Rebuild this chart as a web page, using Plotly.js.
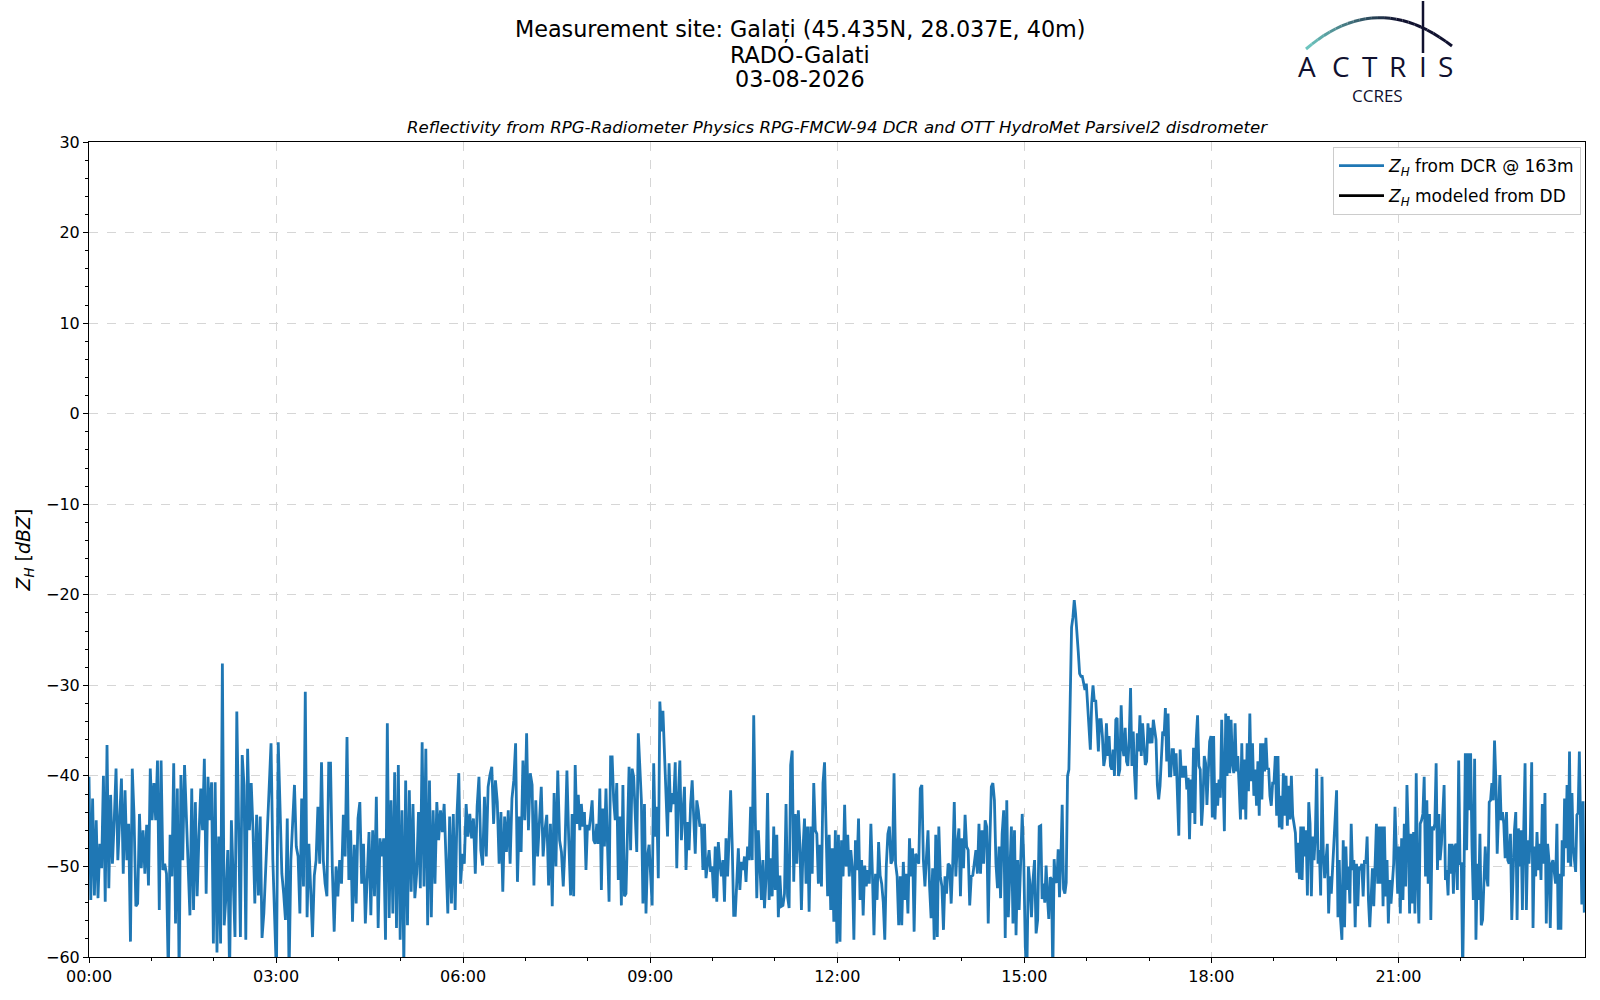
<!DOCTYPE html>
<html>
<head>
<meta charset="utf-8">
<script src="https://cdn.plot.ly/plotly-3.0.1.min.js"></script>
<style>
  html, body { margin: 0; padding: 0; background: #fff; }
  #chart { width: 1600px; height: 1000px; }
</style>
</head>
<body>
<div id="chart"></div>
<script>
/* Z_H time series in seven pieces.
   segBounds are the piece limits in minutes after 00:00 UTC. */
var segBounds = [0, 232.4, 463.4, 694.4, 915.8, 1166, 1416.3, 1440];

var zhA = [-40.1,-53.7,-42.5,-53.2,-44.9,-53.5,-47.5,-50.2,-40.0,-53.9,
  -36.6,-52.4,-42.1,-49.7,-44.9,-39.2,-49.3,-44.9,-40.3,-50.8,
  -41.6,-49.3,-45.3,-58.3,-39.2,-44.5,-54.4,-54.1,-44.2,-50.2,
  -46.0,-50.8,-45.4,-52.1,-39.2,-44.9,-40.8,-44.9,-38.3,-54.8,
  -38.3,-50.4,-49.7,-50.8,-62.0,-46.5,-51.1,-38.6,-56.3,-41.4,
  -62.0,-39.9,-49.3,-38.8,-44.9,-48.9,-55.4,-41.4,-54.8,-42.9,
  -53.3,-46.7,-41.4,-46.0,-38.1,-53.0,-40.1,-44.9,-40.7,-58.5,
  -40.7,-59.5,-46.7,-58.5,-27.6,-56.5,-53.3,-48.2,-62.0,-44.9,
  -51.1,-57.8,-32.9,-46.7,-57.8,-37.7,-41.0,-58.1,-37.0,-46.0,
  -40.8,-46.0,-54.1,-44.3,-53.2,-44.5,-57.9,-55.2,-50.2,-46.0,
  -39.4,-36.4,-49.3,-57.4,-62.0,-36.3,-43.1,-50.8,-53.0,-55.9,
  -44.7,-62.0,-49.3,-45.4,-41.0,-47.8,-48.9,-55.2,-42.5,-52.2,
  -30.7,-55.6,-47.5,-52.6,-57.8,-51.0,-49.3,-43.4,-49.7,-38.5,
  -49.3,-51.9,-53.3,-38.6];

var zhB = [-38.6,-50.4,-57.2,-50.0,-53.3,-49.3,-51.9,-44.3,-48.9,-35.7,
  -51.5,-46.0,-56.1,-47.6,-54.1,-44.7,-42.9,-51.9,-47.5,-56.3,
  -50.4,-46.2,-55.4,-46.0,-53.3,-42.3,-56.8,-46.9,-48.9,-46.9,
  -58.1,-34.2,-55.7,-42.7,-55.2,-39.6,-56.8,-38.8,-58.1,-43.8,
  -61.0,-40.5,-56.5,-41.6,-52.8,-43.1,-53.5,-50.8,-44.0,-52.4,
  -36.3,-52.2,-37.0,-56.5,-40.5,-55.6,-43.8,-51.9,-42.9,-47.1,
  -43.8,-46.2,-43.1,-49.7,-55.2,-44.5,-54.1,-44.2,-54.8,-44.3,
  -39.7,-51.9,-48.6,-49.7,-43.1,-46.7,-44.2,-46.9,-44.7,-50.8,
  -43.4,-40.1,-48.2,-49.9,-42.3,-48.9,-41.2,-39.9,-39.0,-45.3,
  -40.5,-42.9,-49.7,-44.0,-52.8,-44.5,-48.4,-43.8,-49.7,-42.5,
  -40.5,-36.4,-51.7,-44.5,-48.4,-38.3,-44.9,-35.3,-46.0,-39.7,
  -41.0,-52.1,-42.7,-48.9,-44.3,-41.2,-48.9,-46.0,-44.3,-52.1,
  -45.3,-54.4,-41.9,-50.0,-39.4,-47.1,-48.4,-52.2,-47.5,-39.4,
  -47.1];

var zhC = [-53.2,-44.2,-53.3,-38.8,-45.3,-42.1,-46.0,-43.1,-45.6,-44.0,
  -50.4,-45.4,-46.0,-44.5,-42.7,-47.1,-47.5,-45.3,-47.5,-41.4,
  -52.6,-43.6,-47.8,-41.4,-48.6,-53.9,-37.9,-37.9,-42.7,-44.9,
  -40.8,-51.5,-44.5,-54.3,-41.0,-53.3,-53.0,-44.9,-39.0,-48.2,
  -39.2,-40.1,-44.5,-48.4,-35.3,-40.1,-42.7,-54.1,-43.1,-55.2,
  -48.9,-47.6,-51.1,-54.3,-38.6,-46.7,-43.4,-51.3,-31.8,-35.1,
  -32.8,-38.1,-41.6,-46.7,-38.6,-44.0,-41.9,-43.1,-38.5,-50.2,
  -42.3,-38.3,-47.1,-44.5,-41.2,-50.4,-45.1,-48.2,-43.1,-40.5,
  -45.6,-48.6,-42.7,-43.8,-45.6,-45.3,-50.4,-45.3,-51.3,-50.0,
  -48.2,-50.6,-50.0,-53.5,-47.8,-53.9,-47.3,-49.7,-51.1,-49.3,
  -53.9,-46.9,-51.1,-46.9,-41.6,-47.5,-55.4,-55.4,-51.5,-48.0,
  -52.6,-49.5,-50.4,-48.9,-51.7,-47.8,-49.3,-43.4,-49.3,-33.3,
  -44.5,-53.5,-46.0,-49.7,-53.7,-49.3,-54.6,-51.3,-41.9,-53.7,
  -49.1,-53.3,-45.6,-52.6,-46.5,-55.6,-51.0,-54.4,-54.3,-53.0,
  -43.1,-53.3,-54.6,-38.8,-37.2,-51.7,-44.2,-49.7,-43.8,-47.5,
  -54.8,-48.2,-44.7,-51.9,-45.6,-55.0];

var zhD = [-45.6,-50.8,-40.8,-46.0,-46.4,-51.9,-47.6,-52.2,-40.8,-38.5,
  -46.0,-53.3,-46.5,-54.8,-48.0,-56.1,-46.0,-58.5,-46.5,-58.3,
  -47.1,-51.1,-43.2,-50.0,-46.5,-51.1,-48.2,-50.2,-58.1,-47.1,
  -50.4,-44.7,-53.7,-49.3,-55.4,-49.9,-52.2,-50.4,-51.9,-45.3,
  -50.8,-57.6,-50.8,-53.7,-47.3,-51.0,-51.9,-53.9,-58.1,-49.9,
  -46.4,-45.6,-49.7,-49.3,-39.7,-49.7,-51.1,-56.5,-51.1,-56.5,
  -49.5,-53.7,-50.8,-55.2,-46.9,-51.1,-48.0,-57.2,-48.6,-49.3,
  -49.7,-41.4,-41.0,-49.3,-52.2,-48.9,-46.0,-52.2,-55.7,-50.2,
  -58.1,-46.5,-57.8,-45.6,-51.1,-52.2,-57.0,-51.1,-53.0,-49.7,
  -49.9,-54.1,-49.7,-42.9,-51.1,-47.5,-45.8,-53.3,-46.9,-50.2,
  -44.3,-47.8,-48.2,-54.3,-51.1,-51.0,-49.7,-48.2,-50.8,-45.3,
  -50.8,-46.0,-49.7,-44.9,-45.6,-56.3,-47.5,-41.2,-40.8,-42.7,
  -49.7,-52.4,-47.8,-53.5,-46.4,-43.8,-57.9,-42.7,-55.6,-51.1,
  -45.6,-56.3,-46.0,-57.6,-49.3,-54.8,-49.3,-44.2,-49.3,-58.9,
  -62.0,-50.0,-51.9,-55.6,-51.5,-49.3,-57.4,-55.9,-45.6];

var zhE = [-45.5,-53.6,-51.9,-54.0,-49.9,-53.4,-55.8,-51.2,-51.4,-62.0,
  -49.2,-51.6,-51.8,-48.1,-53.4,-49.2,-43.2,-52.5,-53.0,-51.8,
  -40.0,-39.3,-31.6,-23.6,-22.5,-20.6,-22.1,-23.9,-26.3,-28.7,
  -29.0,-29.0,-29.6,-30.5,-29.8,-32.7,-34.9,-37.1,-32.0,-30.0,
  -31.8,-31.6,-34.2,-37.3,-33.8,-33.8,-35.6,-38.9,-38.0,-34.2,
  -37.8,-35.6,-38.9,-39.3,-37.1,-40.0,-33.8,-33.6,-40.0,-39.3,
  -32.2,-36.7,-37.8,-34.7,-38.4,-38.9,-35.8,-30.3,-38.9,-35.1,
  -39.7,-42.6,-35.3,-37.3,-33.3,-37.8,-34.2,-36.0,-38.8,-38.4,
  -34.2,-36.4,-34.7,-36.4,-33.8,-34.9,-36.0,-41.0,-42.6,-41.1,
  -38.4,-35.1,-35.6,-32.5,-38.4,-33.1,-40.0,-40.0,-37.1,-37.1,
  -40.0,-37.5,-42.2,-46.6,-37.1,-40.2,-38.9,-40.2,-38.9,-41.5,
  -40.2,-47.0,-40.4,-44.1,-36.9,-45.3,-36.0,-33.3,-38.9,-39.3,
  -45.5,-43.0,-37.8,-38.6,-43.2,-39.3,-36.2,-35.6,-44.6,-35.6,
  -44.8,-40.8,-43.3,-40.4,-42.4,-33.8,-42.2,-46.1,-33.1,-40.0,
  -33.4,-39.7,-33.8,-38.6,-39.7,-34.2,-39.5,-37.8,-41.1,-44.8,
  -36.4,-43.7,-38.2,-44.8,-36.4,-41.7,-33.1,-40.6,-36.4,-42.2,
  -39.3,-43.3,-38.4,-44.4,-36.4,-42.6,-36.4,-39.5,-35.8,-39.3,
  -39.1,-42.2,-43.3,-40.8,-40.8,-37.8,-44.4,-37.8,-45.7,-42.2,
  -45.9,-39.7,-44.4,-40.0,-45.5,-41.1,-44.8,-40.0,-44.4,-45.2,
  -46.3,-50.7,-47.4,-51.4];

var zhF = [-45.6,-51.5,-45.6,-48.9,-46.0,-53.2,-42.9,-45.3,-53.3,-46.7,
  -49.3,-46.4,-39.2,-49.7,-48.2,-53.2,-40.1,-48.6,-51.3,-49.3,
  -47.5,-55.2,-51.1,-53.0,-50.0,-47.5,-43.8,-41.6,-55.6,-49.3,
  -55.9,-58.1,-47.1,-56.7,-47.8,-52.6,-50.0,-54.1,-45.3,-50.4,
  -49.3,-56.7,-49.7,-54.4,-50.0,-50.4,-49.7,-53.3,-49.3,-49.7,
  -46.7,-53.7,-56.7,-52.2,-50.2,-54.4,-49.3,-45.3,-51.9,-45.6,
  -51.9,-45.6,-54.4,-45.6,-53.3,-49.3,-56.3,-51.5,-54.1,-52.2,
  -49.7,-43.4,-49.3,-53.0,-47.8,-55.2,-46.9,-53.7,-45.3,-52.2,
  -41.0,-46.4,-55.2,-46.4,-54.1,-46.2,-55.2,-39.7,-51.1,-56.3,
  -45.3,-44.9,-44.2,-40.1,-51.1,-42.7,-51.9,-44.2,-55.9,-45.6,
  -46.0,-45.3,-38.6,-50.4,-44.2,-49.3,-47.5,-44.2,-41.0,-51.5,
  -50.4,-53.2,-47.5,-50.8,-47.5,-53.0,-47.8,-47.5,-52.6,-38.3,
  -49.7,-49.7,-62.0,-51.1,-37.5,-48.2,-37.5,-43.8,-37.5,-47.8,
  -53.7,-38.1,-58.1,-49.7,-53.7,-46.4,-56.5,-55.9,-51.1,-47.8,
  -51.1,-52.2,-42.9,-42.7,-40.8,-42.7,-36.1,-40.5,-48.6,-44.5,
  -39.9,-44.9,-44.0,-45.3,-49.1,-44.0,-49.3,-49.7,-46.4,-55.9,
  -49.3,-46.0,-44.0,-55.9,-45.8,-50.0,-46.0,-54.8,-46.0,-38.6,
  -54.8,-47.1,-49.7,-46.4,-38.5,-56.8,-47.8,-51.1,-46.2,-50.4,
  -47.5,-51.5,-43.1,-49.7,-41.9,-56.3,-47.5,-49.3,-56.8,-49.7,
  -49.3,-50.4,-51.9,-45.3,-57.0,-50.8];

var zhG = [-57.0,-47.1,-51.1,-42.5,-48.0,-41.0,-49.6,-37.3,-50.0,-41.9,
  -47.8,-49.3,-50.6,-44.3,-44.1,-37.3,-46.3,-54.2,-42.8,-55.1];

var dayStart = Date.UTC(2026, 7, 3);   // 03-08-2026 00:00 UTC

// build time stamps: each piece spread evenly over its own span
var pieces = [zhA, zhB, zhC, zhD, zhE, zhF, zhG];
var tx = [], zy = [];
for (let p = 0; p < pieces.length; p++) {
    let t0 = segBounds[p], t1 = segBounds[p+1];
    let n = pieces[p].length;
    for (let i = 0; i < n; i++) {
        tx.push(dayStart + (t0 + (t1 - t0) * i / n) * 60000);
        zy.push(pieces[p][i]);
    }
}

var traceDCR = {
    x: tx,
    y: zy,
    mode: 'lines',
    type: 'scatter',
    name: '<i>Z</i><sub><i>H</i></sub> from DCR @ 163m',
    legendgroup: 'dcr',
    line: {color: '#1f77b4', width: 2.8}
};
var traceDD = {   // no disdrometer data this day, legend entry only
    x: [null],
    y: [null],
    mode: 'lines',
    type: 'scatter',
    name: '<i>Z</i><sub><i>H</i></sub> modeled from DD',
    legendgroup: 'dd',
    line: {color: '#000000', width: 2.8}
};

// plot box in page pixels, used to place the header items
var box = {l: 89, r: 1585, t: 142, b: 957};
function fx(x) { return (x - box.l) / (box.r - box.l); }
function fy(y) { return (box.b - y) / (box.b - box.t); }

var font = 'DejaVu Sans, Verdana, sans-serif';
var navy = '#10112f';

var annotations = [
    {text: 'Measurement site: Galați (45.435N, 28.037E, 40m)', x: fx(800), y: fy(30), size: 22.3},
    {text: 'RADO-Galati', x: fx(800), y: fy(55), size: 22.3},
    {text: '03-08-2026', x: fx(800), y: fy(79), size: 22.3},
    {text: '<i>Reflectivity from RPG-Radiometer Physics RPG-FMCW-94 DCR and OTT HydroMet Parsivel2 disdrometer</i>',
     x: 0.5, y: fy(127), size: 16.6}
].map(function(a) {
    return {text: a.text, x: a.x, y: a.y, xref: 'paper', yref: 'paper',
            xanchor: 'center', yanchor: 'middle', showarrow: false,
            font: {family: font, size: a.size, color: '#000'}};
});

// ACTRIS logo
var logoLetters = ['A', 'C', 'T', 'R', 'I', 'S'];
var logoX = [1307, 1341, 1370, 1397, 1423, 1445];
logoLetters.forEach(function(c, i) {
    annotations.push({text: c, x: fx(logoX[i]), y: fy(66), xref: 'paper', yref: 'paper',
        xanchor: 'center', yanchor: 'middle', showarrow: false,
        font: {family: 'Open Sans, sans-serif', size: 28, color: navy}});
});
annotations.push({text: 'CCRES', x: fx(1377), y: fy(95), xref: 'paper', yref: 'paper',
    xanchor: 'center', yanchor: 'middle', showarrow: false,
    font: {family: 'Open Sans, sans-serif', size: 17, color: navy}});

var shapes = [];
// arc of the logo, teal fading to navy
var p0 = [1306, 49], pc = [1377, -12], p2 = [1452, 46];
function bez(t) {
    let a = (1-t)*(1-t), b = 2*t*(1-t), c = t*t;
    return [a*p0[0] + b*pc[0] + c*p2[0], a*p0[1] + b*pc[1] + c*p2[1]];
}
var nArc = 24;
for (let k = 0; k < nArc; k++) {
    let t0 = k / nArc, t1 = (k + 1) / nArc;
    let q0 = bez(t0), q1 = bez(t1);
    let f = Math.min(1, t0 / 0.62);
    let r = Math.round(108 + (16 - 108) * f);
    let g = Math.round(196 + (17 - 196) * f);
    let bl = Math.round(190 + (47 - 190) * f);
    shapes.push({type: 'line', xref: 'paper', yref: 'paper',
        x0: fx(q0[0]), y0: fy(q0[1]), x1: fx(q1[0]), y1: fy(q1[1]),
        line: {color: 'rgb(' + r + ',' + g + ',' + bl + ')', width: 3}});
}
shapes.push({type: 'line', xref: 'paper', yref: 'paper',
    x0: fx(1423), y0: fy(1), x1: fx(1423), y1: fy(53),
    line: {color: navy, width: 2.5}});

var layout = {
    width: 1600,
    height: 1000,
    margin: {l: box.l, r: 1600 - box.r, t: box.t, b: 1000 - box.b, pad: 0},
    paper_bgcolor: '#ffffff',
    plot_bgcolor: '#ffffff',
    font: {family: font, size: 16, color: '#000'},
    showlegend: true,
    xaxis: {
        type: 'date',
        range: [dayStart, dayStart + 1439.5 * 60000],
        tick0: dayStart,
        dtick: 3 * 3600000,
        tickformat: '%H:%M',
        ticks: 'outside',
        ticklen: 5,
        tickcolor: '#000',
        tickfont: {size: 16},
        showline: true,
        linecolor: '#000',
        linewidth: 1,
        mirror: true,
        showgrid: true,
        gridcolor: '#d6d6d6',
        griddash: 'dash',
        gridwidth: 1,
        zeroline: false,
        minor: {dtick: 3600000, ticks: 'outside', ticklen: 3, tickcolor: '#000', showgrid: false}
    },
    yaxis: {
        range: [-60, 30],
        dtick: 10,
        tick0: 0,
        ticks: 'outside',
        ticklen: 5,
        tickcolor: '#000',
        tickfont: {size: 16},
        showline: true,
        linecolor: '#000',
        linewidth: 1,
        mirror: true,
        showgrid: true,
        gridcolor: '#d6d6d6',
        griddash: 'dash',
        gridwidth: 1,
        zeroline: false,
        title: {text: '<i>Z</i><sub><i>H</i></sub> [<i>dBZ</i>]', font: {size: 19}, standoff: 10},
        minor: {dtick: 2, ticks: 'outside', ticklen: 3, tickcolor: '#000', showgrid: false}
    },
    legend: {
        x: fx(1581), y: fy(147), xanchor: 'right', yanchor: 'top',
        bgcolor: 'rgba(255,255,255,0.85)',
        bordercolor: '#cccccc',
        borderwidth: 1,
        traceorder: 'grouped',
        tracegroupgap: 5,
        itemwidth: 45,
        font: {size: 17}
    },
    annotations: annotations,
    shapes: shapes
};

Plotly.newPlot('chart', [traceDCR, traceDD], layout, {staticPlot: true, displayModeBar: false});
</script>
</body>
</html>
